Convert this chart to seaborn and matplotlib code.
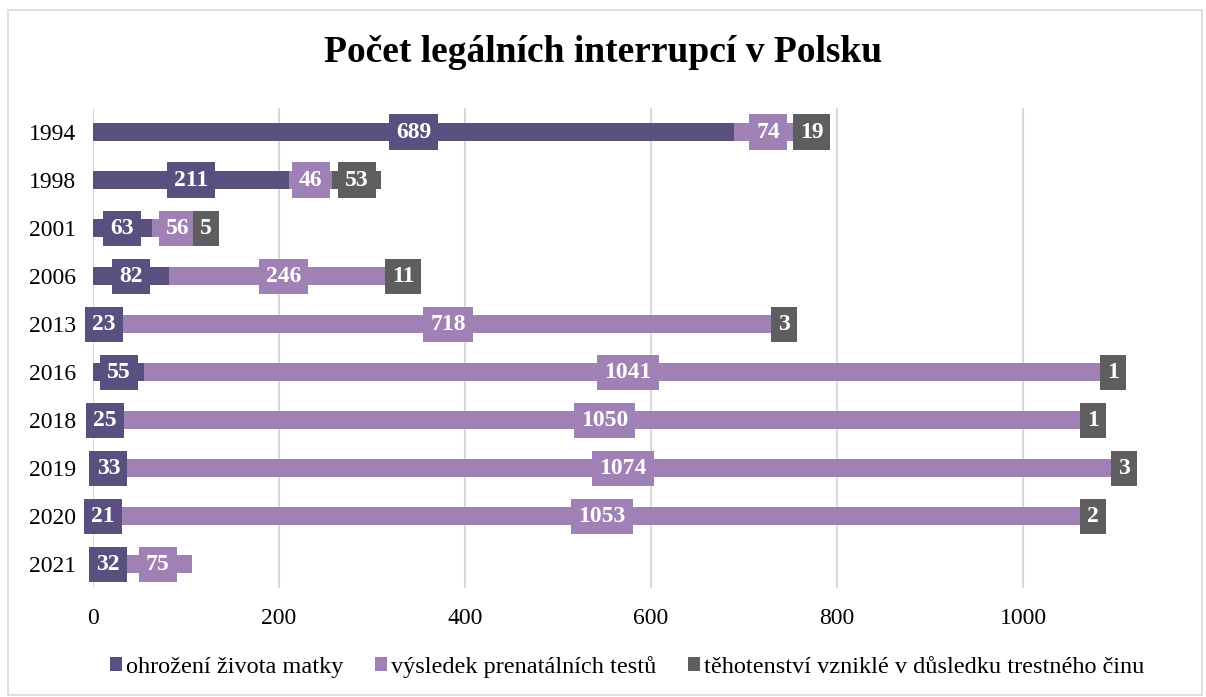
import numpy as np
import pandas as pd
import seaborn as sns
import matplotlib.pyplot as plt
from matplotlib.patches import Patch, Rectangle

# data
years = ['1994', '1998', '2001', '2006', '2013', '2016', '2018', '2019', '2020', '2021']
ohrozeni = [689, 211, 63, 82, 23, 55, 25, 33, 21, 32]
vysledek = [74, 46, 56, 246, 718, 1041, 1050, 1074, 1053, 75]
trestny_cin = [19, 53, 5, 11, 3, 1, 1, 3, 2, 0]

series_names = ['ohrožení života matky', 'výsledek prenatálních testů',
                'těhotenství vzniklé v důsledku trestného činu']
colors = ['#59507f', '#9f81b5', '#5e5e60']

sns.set_style("white")
plt.rcParams['font.family'] = ['Liberation Serif', 'DejaVu Serif']
plt.rcParams['text.color'] = 'black'
plt.rcParams['xtick.color'] = 'black'
plt.rcParams['ytick.color'] = 'black'

df = pd.DataFrame({'rok': years, 's1': ohrozeni, 's2': vysledek, 's3': trestny_cin})
df['c1'] = df['s1']
df['c2'] = df['s1'] + df['s2']
df['c3'] = df['c2'] + df['s3']

fig = plt.figure(figsize=(12.06, 6.97), dpi=100)
ax = fig.add_axes([0.0771, 0.156, 0.91, 0.689])

# stacked bars: draw cumulative totals back to front
for col, c in zip(['c3', 'c2', 'c1'], colors[::-1]):
    sns.barplot(data=df, x=col, y='rok', color=c, orient='h', width=0.38,
                saturation=1, linewidth=0, ax=ax, zorder=2)

# value labels in boxes
for i in range(len(years)):
    left = 0
    for val, c in zip([df.s1[i], df.s2[i], df.s3[i]], colors):
        if val > 0:
            ax.text(left + val / 2, i, str(val), ha='center', va='center',
                    color='white', fontsize=17, fontweight='bold', zorder=5,
                    bbox=dict(boxstyle='square,pad=0.3', fc=c, ec='none'))
        left += val

ax.set_xlim(0, 1180)
ax.set_xticks([0, 200, 400, 600, 800, 1000])
ax.xaxis.grid(True, color='#d9d9d9', linewidth=1.5, zorder=0)
ax.set_axisbelow(True)
for s in ax.spines.values():
    s.set_visible(False)
ax.set_xlabel('')
ax.set_ylabel('')
ax.tick_params(axis='both', length=0, labelsize=17)
ax.tick_params(axis='x', pad=14)
ax.tick_params(axis='y', pad=12)

fig.suptitle('Počet legálních interrupcí v Polsku', fontsize=27,
             fontweight='bold', y=0.925, va='center')

handles = [Patch(facecolor=c, edgecolor='none') for c in colors]
fig.legend(handles, series_names, loc='center', bbox_to_anchor=(0.52, 0.043),
           ncol=3, frameon=False, fontsize=17.5, handlelength=0.5,
           handleheight=0.5, handletextpad=0.15, columnspacing=1.3)

# light frame around the chart
fig.patches.append(Rectangle((0.007, 0.003), 0.99, 0.983, transform=fig.transFigure,
                             fill=False, ec='#d9d9d9', lw=1.2))

fig.savefig('out.png', dpi=100)
